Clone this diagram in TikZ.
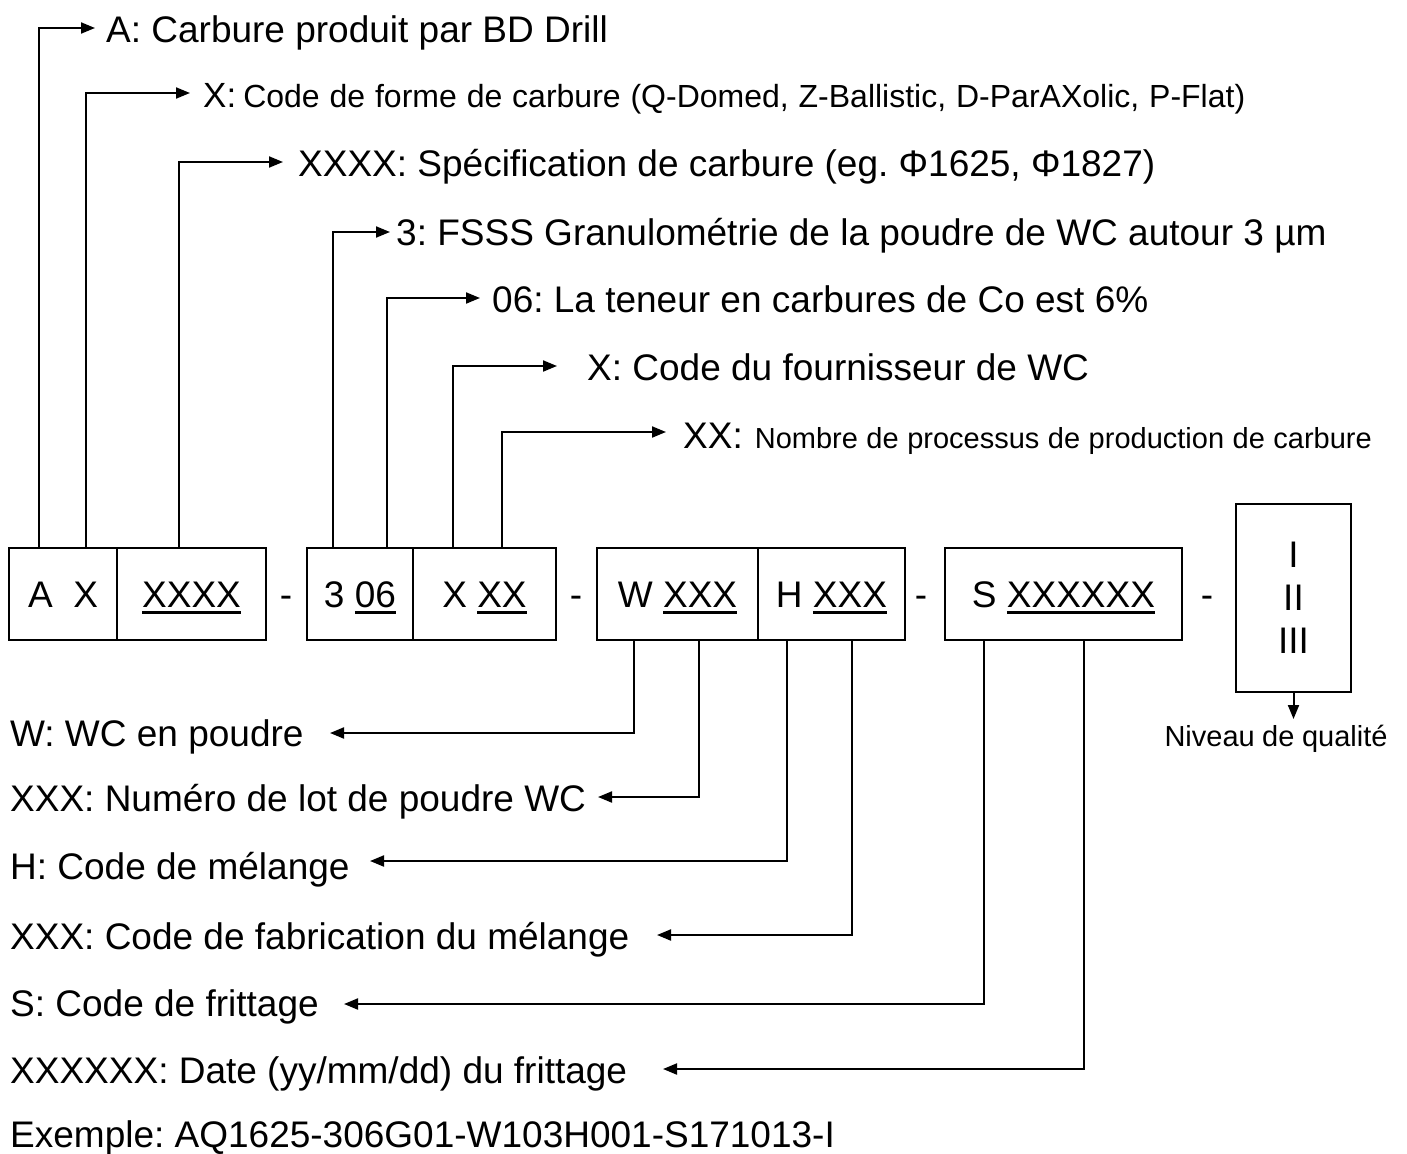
\documentclass[tikz,border=0pt]{standalone}
\usepackage{fontspec}
\setmainfont{Liberation Sans}
\usetikzlibrary{arrows.meta}
\frenchspacing
\newcommand\bigf{\fontsize{37}{44}\selectfont}
\newcommand\smf{\fontsize{29}{34}\selectfont}
\newsavebox\ulbox
\newcommand\ulx[1]{\sbox\ulbox{#1}\rlap{\raisebox{-7pt}{\rule{\wd\ulbox}{3pt}}}\usebox\ulbox}
\begin{document}
\begin{tikzpicture}[x=1pt,y=-1pt,
  cell/.style={draw, line width=2.6pt, minimum height=92pt, inner sep=0pt, font=\bigf, text height=26.5pt, text depth=0pt},
  lbl/.style={anchor=west, inner sep=0pt, font=\bigf, text height=26.5pt, text depth=0pt},
  dashnode/.style={inner sep=0pt, font=\bigf, text height=26.5pt, text depth=0pt},
  conn/.style={line width=2pt},
  arr/.style={conn, -{Triangle[length=14pt,width=11pt]}}]
\fill[white] (0,0) rectangle (1407,1153);
\useasboundingbox (0,0) rectangle (1407,1153);

% code boxes
\node[cell, minimum width=108pt] (c1) at (63,594) {A~~X};
\node[cell, minimum width=149pt] (c2) at (191.5,594) {\ulx{XXXX}};
\node[cell, minimum width=106pt] (c3) at (360,594) {3 \ulx{06}};
\node[cell, minimum width=143pt] (c4) at (484.5,594) {X \ulx{XX}};
\node[cell, minimum width=161pt] (c5) at (677.5,594) {W \ulx{XXX}};
\node[cell, minimum width=147pt] (c6) at (831.5,594) {H \ulx{XXX}};
\node[cell, minimum width=237pt] (c7) at (1063.5,594) {S \ulx{XXXXXX}};
\node[draw, line width=2.6pt, inner sep=0pt, minimum width=115pt, minimum height=188pt,
      align=center, font=\fontsize{37}{43}\selectfont] (q) at (1293.5,598) {I\\II\\III};

\node[dashnode] (d1) at (286,594) {-};
\node[dashnode] (d2) at (576,594) {-};
\node[dashnode] (d3) at (921,594) {-};
\node[dashnode] (d4) at (1207,594) {-};

% top labels
\node[lbl] (t1) at (106,29) {A: Carbure produit par BD Drill};
\node[lbl, text height=25pt] (t2) at (203,95) {{\fontsize{35}{40}\selectfont X:}\hspace{7pt}{\fontsize{32}{37}\selectfont\hbox to 1002pt{Code de forme de carbure (Q-Domed, Z-Ballistic, D-ParAXolic, P-Flat)}}};
\node[lbl] (t3) at (298,163) {XXXX: Spécification de carbure (eg. Φ1625, Φ1827)};
\node[lbl] (t4) at (396,232) {3: FSSS Granulométrie de la poudre de WC autour 3 µm};
\node[lbl] (t5) at (492,299) {06: La teneur en carbures de Co est 6\%};
\node[lbl] (t6) at (587,367) {X: Code du fournisseur de WC};
\node[lbl] (t7) at (683,435) {XX:\hspace{12pt}{\smf\hbox to 617pt{Nombre de processus de production de carbure}}};

\coordinate (a1) at (95,28);
\coordinate (a2) at (190,93);
\coordinate (a3) at (283,162);
\coordinate (a4) at (390,232);
\coordinate (a5) at (480,298);
\coordinate (a6) at (557,366);
\coordinate (a7) at (666,432);

\draw[arr] (39,0 |- c1.north) |- (a1);
\draw[arr] (86,0 |- c1.north) |- (a2);
\draw[arr] (179,0 |- c2.north) |- (a3);
\draw[arr] (333,0 |- c3.north) |- (a4);
\draw[arr] (387,0 |- c3.north) |- (a5);
\draw[arr] (453,0 |- c4.north) |- (a6);
\draw[arr] (502,0 |- c4.north) |- (a7);

% bottom labels
\node[lbl] (b1) at (10,733) {W: WC en poudre};
\node[lbl] (b2) at (10,798) {XXX: Numéro de lot de poudre WC};
\node[lbl] (b3) at (10,866) {H: Code de mélange};
\node[lbl] (b4) at (10,936) {XXX: Code de fabrication du mélange};
\node[lbl] (b5) at (10,1003) {S: Code de frittage};
\node[lbl] (b6) at (10,1070) {XXXXXX: Date (yy/mm/dd) du frittage};
\node[lbl] (b7) at (10,1134) {Exemple: AQ1625-306G01-W103H001-S171013-I};

\coordinate (e1) at (330,733);
\coordinate (e2) at (598,797);
\coordinate (e3) at (370,861);
\coordinate (e4) at (657,935);
\coordinate (e5) at (344,1004);
\coordinate (e6) at (663,1069);

\draw[arr] (634,0 |- c5.south) |- (e1);
\draw[arr] (699,0 |- c5.south) |- (e2);
\draw[arr] (787,0 |- c6.south) |- (e3);
\draw[arr] (852,0 |- c6.south) |- (e4);
\draw[arr] (984,0 |- c7.south) |- (e5);
\draw[arr] (1084,0 |- c7.south) |- (e6);

% quality level
\coordinate (qe) at (1293.5,719);
\draw[arr] (q.south) -- (qe);
\node[inner sep=0pt, font=\smf, text height=21pt, text depth=0pt] (nq) at (1276,736) {\hbox to 223pt{Niveau de qualité}};
\end{tikzpicture}
\end{document}
